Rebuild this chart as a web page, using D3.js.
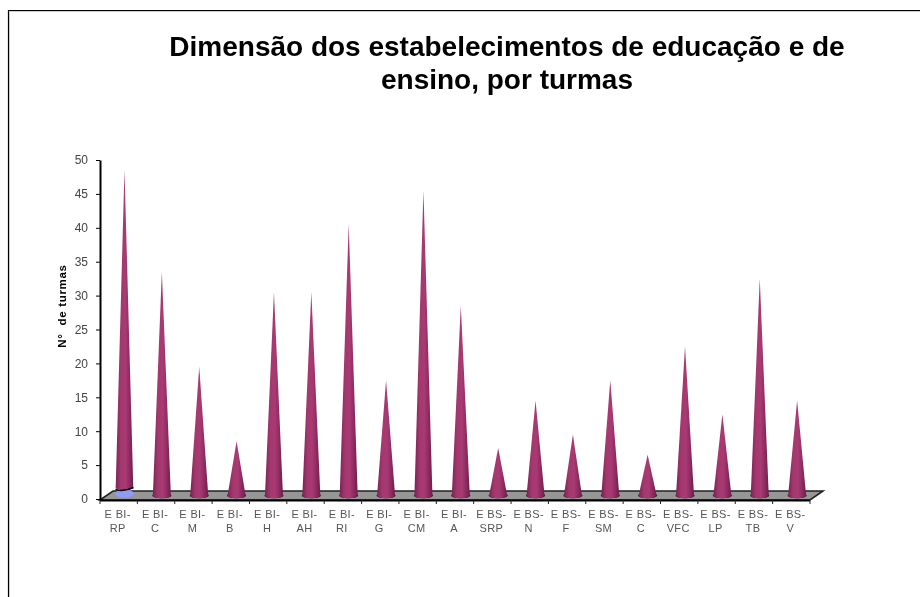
<!DOCTYPE html>
<html><head><meta charset="utf-8">
<script src="https://cdn.jsdelivr.net/npm/d3@7"></script>
<style>html,body{margin:0;padding:0;background:#fff}svg{display:block}</style>
</head><body><div id="c"></div>
<script>
const categories = ["E BI-|RP","E BI-|C","E BI-|M","E BI-|B","E BI-|H","E BI-|AH","E BI-|RI","E BI-|G","E BI-|CM","E BI-|A","E BS-|SRP","E BS-|N","E BS-|F","E BS-|SM","E BS-|C","E BS-|VFC","E BS-|LP","E BS-|TB","E BS-|V"];
const values = [48,33,19,8,30,30,40,17,45,28,7,14,9,17,6,22,12,32,14];
const yTicks = [0,5,10,15,20,25,30,35,40,45,50];
const titleLines = ["Dimensão dos estabelecimentos de educação e de","ensino, por turmas"];
const yTitle = "N°  de turmas";

const svg = d3.select("#c").append("svg").attr("width",920).attr("height",597);
const font = "Liberation Sans, Arial, sans-serif";
const defs = svg.append("defs");
const g = defs.append("linearGradient").attr("id","cone");
[[0,"#7a2356"],[0.3,"#a5386f"],[0.55,"#a83a72"],[0.8,"#8c2a5f"],[1,"#6a1e4b"]].forEach(d=>g.append("stop").attr("offset",d[0]).attr("stop-color",d[1]));
defs.append("filter").attr("id","soft").append("feGaussianBlur").attr("stdDeviation",0.45);
defs.append("filter").attr("id","softText").append("feGaussianBlur").attr("stdDeviation",0.3);

svg.append("path").attr("d","M920,10.5H8.5V597").attr("fill","none").attr("stroke","#000").attr("stroke-width",1.2);
svg.append("path").attr("d","M920,11.5H9.5V597").attr("fill","none").attr("stroke","#ccc").attr("stroke-width",1);

const x = d3.scaleBand().domain(categories).range([100,810]).padding(0);
const y = d3.scaleLinear().domain([0,50]).range([499,160]);
const dx = 13, dy = 8;

const x0=x.range()[0], x1=x.range()[1], y0=y(0);
svg.append("path").attr("d",`M${x0},${y0+1}L${x0+dx},${y0-dy}H${x1+dx}L${x1},${y0+1}Z`)
  .attr("fill","#969696").attr("stroke","#222").attr("stroke-width",1.6);
svg.append("line").attr("x1",x0).attr("x2",x1).attr("y1",y0+1.5).attr("y2",y0+1.5).attr("stroke","#000").attr("stroke-width",2.2);

const ya = svg.append("g").attr("transform",`translate(${x0},0)`).call(d3.axisLeft(y).tickValues(yTicks).tickSize(4).tickSizeOuter(0));
ya.select(".domain").attr("stroke","#000").attr("stroke-width",2);
ya.selectAll("line").attr("stroke","#000");
ya.selectAll("text").attr("font-family",font).attr("font-size",12).attr("fill","#444").attr("x",-12).attr("filter","url(#softText)");

const bounds = categories.map(c=>x(c)).concat([x1]);
svg.append("g").selectAll("line").data(bounds).join("line")
  .attr("x1",d=>d).attr("x2",d=>d).attr("y1",y0+1).attr("y2",y0+5).attr("stroke","#222");
const xl = svg.append("g").attr("filter","url(#softText)").selectAll("text").data(categories).join("text")
  .attr("text-anchor","middle").attr("font-family",font).attr("font-size",11).attr("letter-spacing",0.35).attr("fill","#555")
  .attr("transform",c=>`translate(${x(c)+x.bandwidth()/2-1},0)`);
xl.selectAll("tspan").data(c=>c.split("|")).join("tspan").attr("x",0).attr("y",(d,i)=>518+i*14).text(d=>d);

const off=3.5;
const cones = svg.append("g").attr("filter","url(#soft)").selectAll("g").data(categories).join("g")
  .attr("transform",c=>`translate(${x(c)+x.bandwidth()/2+5.8},0)`);
cones.each(function(c,i){
  const s=d3.select(this), v=values[i], tip=y(v)-off, by=y0-3.5, rx=9, ry=2.8;
  const first = i===0;
  if(first){
    s.append("ellipse").attr("cy",by-2).attr("rx",rx).attr("ry",4.2).attr("fill","#8f9cf5");
  }
  const bot = first? by-7.5: by;
  const w = first? rx*(1-(by-bot)/(by-tip)) : rx;
  const cry = first? 1.8: ry;
  if(!first) s.append("ellipse").attr("cy",by).attr("rx",rx+.6).attr("ry",ry).attr("fill","#2c1020");
  s.append("path").attr("d",`M0,${tip}L${w},${bot}A${w},${cry} 0 0 1 ${-w},${bot}Z`).attr("fill","url(#cone)");
  if(first){
    s.append("path").attr("d",`M${-rx},${by-6}Q0,${by-3.5} ${rx},${by-8}`).attr("stroke","#000").attr("stroke-width",1.6).attr("fill","none");
  }
});

svg.append("g").attr("filter","url(#softText)").selectAll("text").data(titleLines).join("text")
  .attr("x",507).attr("y",(d,i)=>56+i*33).attr("text-anchor","middle").attr("font-family",font)
  .attr("font-weight","bold").attr("font-size",28).attr("fill","#000").text(d=>d);
svg.append("text").attr("transform","translate(66,306) rotate(-90)").attr("text-anchor","middle").attr("filter","url(#softText)").style("white-space","pre")
  .attr("font-family",font).attr("font-weight","bold").attr("font-size",11.5).attr("letter-spacing",0.7).attr("fill","#000").text(yTitle);
</script></body></html>
